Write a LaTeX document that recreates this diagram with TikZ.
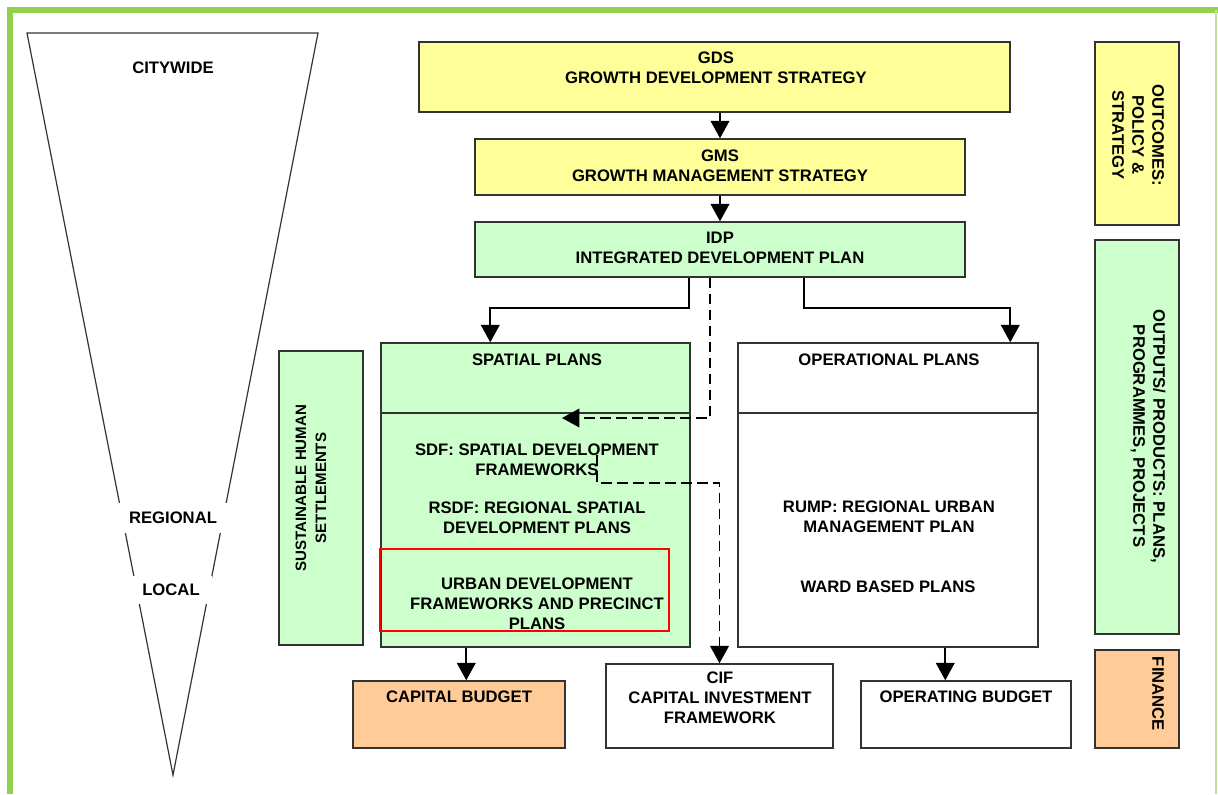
\documentclass[tikz,border=0pt]{standalone}
\usepackage{fontspec}
\setmainfont{Liberation Sans}
\usetikzlibrary{arrows.meta,calc,fit}
\definecolor{ylw}{HTML}{FFFF99}
\definecolor{grn}{HTML}{CCFFCC}
\definecolor{org}{HTML}{FFCC99}
\definecolor{framegreen}{HTML}{92D050}
\definecolor{edge}{HTML}{333333}
\begin{document}
\begin{tikzpicture}[x=0.75pt,y=-0.75pt,
  box/.style={draw=edge,line width=1.1pt,inner sep=0pt},
  txt/.style={font=\bfseries\fontsize{12.5}{15}\selectfont,align=center,text=black,inner sep=0pt},
  smalltxt/.style={font=\bfseries\fontsize{11.3}{15}\selectfont,align=center,text=black,inner sep=0pt},
  arr/.style={draw=black,line width=1.2pt,-{Triangle[length=13pt,width=14pt]}},
  darr/.style={arr,dash pattern=on 8pt off 4pt},
  tri/.style={draw=edge,line width=0.9pt}]
\useasboundingbox (0,0) rectangle (1218,794);
\fill[white] (0,0) rectangle (1218,794);
% frame
\draw[framegreen,line width=4.2pt] (9.7,794) -- (9.7,9.7) -- (1218,9.7);
\draw[framegreen!60,line width=1pt] (1216,9.7) -- (1216,794);
% funnel
\draw[tri] (27,33) -- (318,33) -- (173,775) -- cycle;
\node[txt] (citywide) at (173,68) {CITYWIDE};
\node[txt,fill=white,minimum width=110*0.75pt,minimum height=22pt] (regional) at (173,518) {REGIONAL};
\node[txt,fill=white,minimum width=82*0.75pt,minimum height=21pt] (local) at (171,590) {LOCAL};
% main boxes
\node[box,fill=ylw,fit={(419,42) (1010,112)}] (gds) {};
\node[txt] (gdst) at (716,68) {GDS\\GROWTH DEVELOPMENT STRATEGY};
\node[box,fill=ylw,fit={(475,139) (965,195)}] (gms) {};
\node[txt] (gmst) at (720,166) {GMS\\GROWTH MANAGEMENT STRATEGY};
\node[box,fill=grn,fit={(475,222) (965,277)}] (idp) {};
\node[txt] (idpt) at (720,248) {IDP\\INTEGRATED DEVELOPMENT PLAN};
% spatial plans
\node[box,fill=grn,fit={(381,343) (690,647)}] (sp) {};
\draw[edge,line width=1.1pt] (sp.west |- 0,413) -- (sp.east |- 0,413);
\node[txt] (spt) at (537,360) {SPATIAL PLANS};
\node[txt] (sdf) at (537,460) {SDF: SPATIAL DEVELOPMENT\\FRAMEWORKS};
\node[txt] (rsdf) at (537,518) {RSDF: REGIONAL SPATIAL\\DEVELOPMENT PLANS};
\node[draw=red,line width=1.6pt,inner sep=0pt,fit={(380,549) (669,631)}] (redbox) {};
\node[txt] (udf) at (537,604) {URBAN DEVELOPMENT\\FRAMEWORKS AND PRECINCT\\PLANS};
% operational plans
\node[box,fill=white,fit={(738,343) (1038,647)}] (op) {};
\draw[edge,line width=1.1pt] (op.west |- 0,413) -- (op.east |- 0,413);
\node[txt] (opt) at (889,360) {OPERATIONAL PLANS};
\node[txt] (rump) at (889,517) {RUMP: REGIONAL URBAN\\MANAGEMENT PLAN};
\node[txt] (ward) at (888,587) {WARD BASED PLANS};
% sustainable
\node[box,fill=grn,fit={(279,351) (363,645)}] (shs) {};
\node[smalltxt,rotate=90] (shst) at (311,488) {SUSTAINABLE HUMAN\\SETTLEMENTS};
% bottom boxes
\node[box,fill=org,fit={(353,681) (565,748)}] (cb) {};
\node[txt] (cbt) at (459,697) {CAPITAL BUDGET};
\node[box,fill=white,fit={(606,664) (833,748)}] (cif) {};
\node[txt] (cift) at (720,698) {CIF\\CAPITAL INVESTMENT\\FRAMEWORK};
\node[box,fill=white,fit={(861,681) (1071,748)}] (ob) {};
\node[txt] (obt) at (966,697) {OPERATING BUDGET};
% right column
\node[box,fill=ylw,fit={(1095,42) (1179,225)}] (outc) {};
\node[txt,rotate=-90] (outct) at (1138,135) {OUTCOMES:\\POLICY \&\\STRATEGY};
\node[box,fill=grn,fit={(1095,240) (1179,634)}] (outp) {};
\node[txt,rotate=-90] (outpt) at (1148,436) {OUTPUTS/ PRODUCTS: PLANS,\\PROGRAMMES, PROJECTS};
\node[box,fill=org,fit={(1095,650) (1179,748)}] (fin) {};
\node[txt,rotate=-90] (fint) at (1158,694) {FINANCE};
% connectors
\draw[arr] (gms.north |- gds.south) -- (gms.north);
\draw[arr] (gms.south) -- (idp.north);
\coordinate (s1) at ($(idp.south west)+(215,0)$);
\coordinate (e1) at ($(sp.north west)+(110,0)$);
\draw[arr] (s1) -- ++(0,30) -| (e1);
\coordinate (s2) at ($(idp.south west)+(330,0)$);
\coordinate (e2) at ($(op.north west)+(273,0)$);
\draw[arr] (s2) -- ++(0,30) -| (e2);
\coordinate (s3) at ($(idp.south west)+(236,0)$);
\coordinate (dtip) at (562,418);
\draw[darr] (s3) |- (dtip);
\coordinate (dstart) at (597,455);
\draw[darr] (dstart) -- (597,483) -| (cif.north);
\coordinate (s4) at ($(sp.south west)+(86,0)$);
\draw[arr] (s4) -- (s4 |- cb.north);
\coordinate (s5) at ($(op.south west)+(208,0)$);
\draw[arr] (s5) -- (s5 |- ob.north);
\end{tikzpicture}
\end{document}
